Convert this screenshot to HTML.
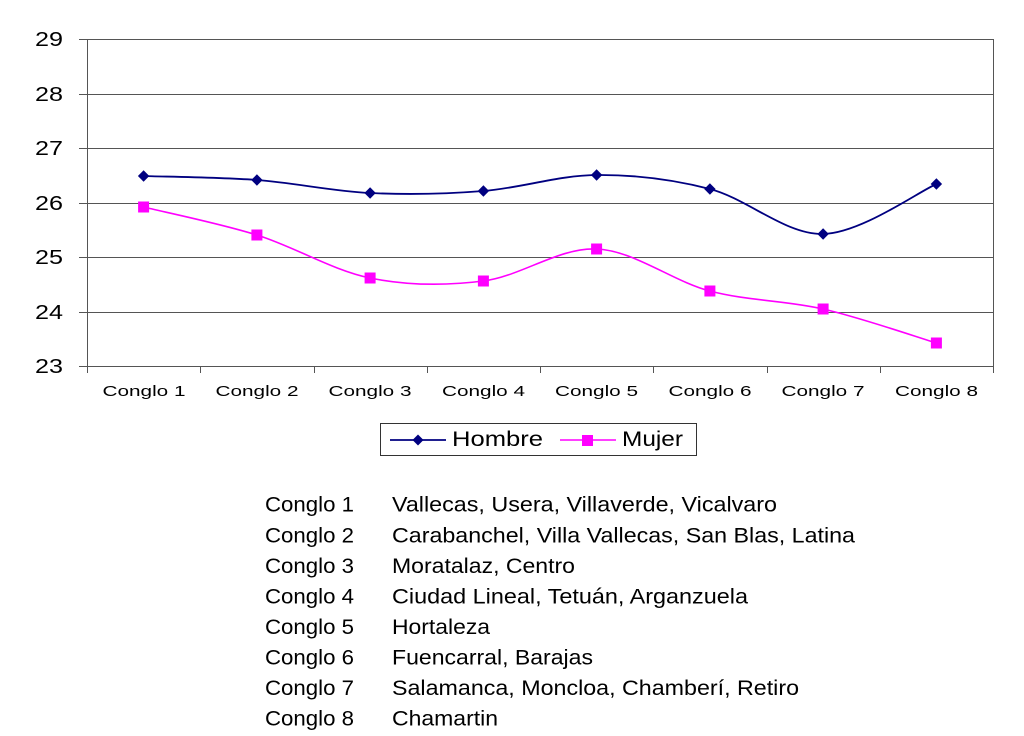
<!DOCTYPE html>
<html>
<head>
<meta charset="utf-8">
<style>
  html,body{margin:0;padding:0;background:#fff;}
  svg{display:block;}
  text{font-family:"Liberation Sans",Arial,sans-serif;fill:#000;}
</style>
</head>
<body>
<svg width="1024" height="736" viewBox="0 0 1024 736" xmlns="http://www.w3.org/2000/svg">
  <rect x="0" y="0" width="1024" height="736" fill="#fff"/>

  <!-- gridlines -->
  <g stroke="#555" stroke-width="1" shape-rendering="crispEdges">
    <line x1="79" y1="39.5" x2="993" y2="39.5"/>
    <line x1="79" y1="94.5" x2="993" y2="94.5"/>
    <line x1="79" y1="148.5" x2="993" y2="148.5"/>
    <line x1="79" y1="203.5" x2="993" y2="203.5"/>
    <line x1="79" y1="257.5" x2="993" y2="257.5"/>
    <line x1="79" y1="312.5" x2="993" y2="312.5"/>
    <line x1="79" y1="366.5" x2="993" y2="366.5"/>
    <line x1="87.5" y1="39" x2="87.5" y2="367"/>
    <line x1="993.5" y1="39" x2="993.5" y2="373"/>
    <line x1="87.5" y1="367" x2="87.5" y2="373"/>
    <line x1="200.5" y1="367" x2="200.5" y2="373"/>
    <line x1="314.5" y1="367" x2="314.5" y2="373"/>
    <line x1="427.5" y1="367" x2="427.5" y2="373"/>
    <line x1="540.5" y1="367" x2="540.5" y2="373"/>
    <line x1="653.5" y1="367" x2="653.5" y2="373"/>
    <line x1="767.5" y1="367" x2="767.5" y2="373"/>
    <line x1="880.5" y1="367" x2="880.5" y2="373"/>
  </g>

  <!-- y labels -->
  <g font-size="20" text-anchor="end">
    <text x="63" y="46" textLength="28" lengthAdjust="spacingAndGlyphs">29</text>
    <text x="63" y="101" textLength="28" lengthAdjust="spacingAndGlyphs">28</text>
    <text x="63" y="155" textLength="28" lengthAdjust="spacingAndGlyphs">27</text>
    <text x="63" y="210" textLength="28" lengthAdjust="spacingAndGlyphs">26</text>
    <text x="63" y="264" textLength="28" lengthAdjust="spacingAndGlyphs">25</text>
    <text x="63" y="319" textLength="28" lengthAdjust="spacingAndGlyphs">24</text>
    <text x="63" y="373" textLength="28" lengthAdjust="spacingAndGlyphs">23</text>
  </g>

  <!-- x labels -->
  <g font-size="15">
    <text x="102.5" y="396" textLength="83" lengthAdjust="spacingAndGlyphs">Conglo 1</text>
    <text x="215.5" y="396" textLength="83" lengthAdjust="spacingAndGlyphs">Conglo 2</text>
    <text x="328.5" y="396" textLength="83" lengthAdjust="spacingAndGlyphs">Conglo 3</text>
    <text x="442" y="396" textLength="83" lengthAdjust="spacingAndGlyphs">Conglo 4</text>
    <text x="555" y="396" textLength="83" lengthAdjust="spacingAndGlyphs">Conglo 5</text>
    <text x="668.5" y="396" textLength="83" lengthAdjust="spacingAndGlyphs">Conglo 6</text>
    <text x="781.5" y="396" textLength="83" lengthAdjust="spacingAndGlyphs">Conglo 7</text>
    <text x="895" y="396" textLength="83" lengthAdjust="spacingAndGlyphs">Conglo 8</text>
  </g>

  <!-- Hombre series -->
  <path fill="none" stroke="#000080" stroke-width="1.8"
    d="M143.6,176 C162.5,176.7 219.1,177.2 256.9,180
       C294.6,182.8 332.4,191.2 370.1,193
       C407.9,194.8 445.6,194 483.4,191
       C521.1,188 558.9,175.3 596.6,175
       C634.4,174.7 672.1,179.2 709.9,189
       C747.6,198.8 785.4,234.8 823.1,234
       C860.9,233.2 917.5,192.3 936.4,184"/>
  <g fill="#000080">
    <polygon points="143.6,170.3 149.3,176 143.6,181.7 137.9,176"/>
    <polygon points="256.9,174.3 262.6,180 256.9,185.7 251.2,180"/>
    <polygon points="370.1,187.3 375.8,193 370.1,198.7 364.4,193"/>
    <polygon points="483.4,185.3 489.1,191 483.4,196.7 477.7,191"/>
    <polygon points="596.6,169.3 602.3,175 596.6,180.7 590.9,175"/>
    <polygon points="709.9,183.3 715.6,189 709.9,194.7 704.2,189"/>
    <polygon points="823.1,228.3 828.8,234 823.1,239.7 817.4,234"/>
    <polygon points="936.4,178.3 942.1,184 936.4,189.7 930.7,184"/>
  </g>

  <!-- Mujer series -->
  <path fill="none" stroke="#ff00ff" stroke-width="1.6"
    d="M143.6,207 C162.5,211.7 219.1,223.2 256.9,235
       C294.6,246.8 332.4,270.3 370.1,278
       C407.9,285.7 445.6,285.8 483.4,281
       C521.1,276.2 558.9,247.3 596.6,249
       C634.4,250.7 672.1,281 709.9,291
       C747.6,301 785.4,300.3 823.1,309
       C860.9,317.7 917.5,337.3 936.4,343"/>
  <g fill="#ff00ff">
    <rect x="138.1" y="201.5" width="11" height="11"/>
    <rect x="251.4" y="229.5" width="11" height="11"/>
    <rect x="364.6" y="272.5" width="11" height="11"/>
    <rect x="477.9" y="275.5" width="11" height="11"/>
    <rect x="591.1" y="243.5" width="11" height="11"/>
    <rect x="704.4" y="285.5" width="11" height="11"/>
    <rect x="817.6" y="303.5" width="11" height="11"/>
    <rect x="930.9" y="337.5" width="11" height="11"/>
  </g>

  <!-- legend -->
  <rect x="380.5" y="423.5" width="316" height="32" fill="#fff" stroke="#333" stroke-width="1"/>
  <line x1="390" y1="440" x2="446" y2="440" stroke="#000080" stroke-width="1.8"/>
  <polygon points="418,434.5 423.5,440 418,445.5 412.5,440" fill="#000080"/>
  <text x="452" y="446" font-size="21" textLength="91" lengthAdjust="spacingAndGlyphs">Hombre</text>
  <line x1="560" y1="440" x2="616" y2="440" stroke="#ff00ff" stroke-width="1.6"/>
  <rect x="582" y="435" width="11" height="11" fill="#ff00ff"/>
  <text x="622" y="446" font-size="21" textLength="61" lengthAdjust="spacingAndGlyphs">Mujer</text>

  <!-- list -->
  <g font-size="21.5">
    <text x="265" y="511.7" textLength="89" lengthAdjust="spacingAndGlyphs">Conglo 1</text>
    <text x="265" y="542.3" textLength="89" lengthAdjust="spacingAndGlyphs">Conglo 2</text>
    <text x="265" y="572.8" textLength="89" lengthAdjust="spacingAndGlyphs">Conglo 3</text>
    <text x="265" y="603.4" textLength="89" lengthAdjust="spacingAndGlyphs">Conglo 4</text>
    <text x="265" y="634" textLength="89" lengthAdjust="spacingAndGlyphs">Conglo 5</text>
    <text x="265" y="664.5" textLength="89" lengthAdjust="spacingAndGlyphs">Conglo 6</text>
    <text x="265" y="695.1" textLength="89" lengthAdjust="spacingAndGlyphs">Conglo 7</text>
    <text x="265" y="725.7" textLength="89" lengthAdjust="spacingAndGlyphs">Conglo 8</text>

    <text x="392" y="511.7" textLength="385" lengthAdjust="spacingAndGlyphs">Vallecas, Usera, Villaverde, Vicalvaro</text>
    <text x="392" y="542.3" textLength="463" lengthAdjust="spacingAndGlyphs">Carabanchel, Villa Vallecas, San Blas, Latina</text>
    <text x="392" y="572.8" textLength="183" lengthAdjust="spacingAndGlyphs">Moratalaz, Centro</text>
    <text x="392" y="603.4" textLength="356" lengthAdjust="spacingAndGlyphs">Ciudad Lineal, Tetuán, Arganzuela</text>
    <text x="392" y="634" textLength="98" lengthAdjust="spacingAndGlyphs">Hortaleza</text>
    <text x="392" y="664.5" textLength="201" lengthAdjust="spacingAndGlyphs">Fuencarral, Barajas</text>
    <text x="392" y="695.1" textLength="407" lengthAdjust="spacingAndGlyphs">Salamanca, Moncloa, Chamberí, Retiro</text>
    <text x="392" y="725.7" textLength="106" lengthAdjust="spacingAndGlyphs">Chamartin</text>
  </g>
</svg>
</body>
</html>
